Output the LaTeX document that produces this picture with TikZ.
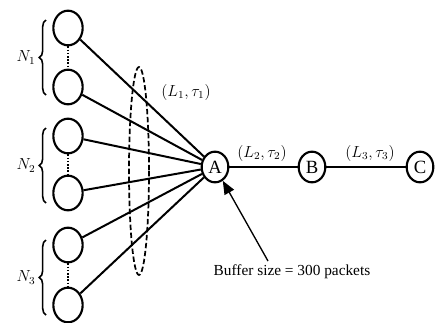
\documentclass[tikz,border=0pt]{standalone}
\usepackage{fontspec}
\setmainfont{Liberation Serif}
\usetikzlibrary{shapes.geometric,decorations.pathreplacing,arrows.meta}
\begin{document}
\begin{tikzpicture}[x=0.75pt,y=-0.75pt,
  src/.style={draw,line width=1.6pt,ellipse,minimum width=22pt,minimum height=26pt,inner sep=0pt},
  hub/.style={draw,line width=1.6pt,ellipse,minimum width=20pt,minimum height=23pt,inner sep=0pt,font=\fontsize{14}{14}\selectfont},
  link/.style={line width=1.5pt},
  dotline/.style={line width=1.2pt,dash pattern=on 1.2pt off 1.2pt},
  bracestyle/.style={line width=1.2pt,decorate,decoration={brace,amplitude=5pt}},
  lbl/.style={font=\fontsize{12}{14}\selectfont}]
\useasboundingbox (0,0) rectangle (435,322);
% sources
\node[src] (s1) at (68,28) {};
\node[src] (s2) at (68,87) {};
\node[src] (s3) at (68,136) {};
\node[src] (s4) at (68,193) {};
\node[src] (s5) at (68,245) {};
\node[src] (s6) at (68,305) {};
\draw[dotline] (s1) -- (s2);
\draw[dotline] (s3) -- (s4);
\draw[dotline] (s5) -- (s6);
% hubs
\node[hub] (A) at (215,167) {A};
\node[hub] (B) at (312,167) {B};
\node[hub] (C) at (420,167) {C};
% links
\foreach \s in {s1,s2,s3,s4,s5,s6} \draw[link] (\s) -- (A);
\draw[link] (A) -- (B);
\draw[link] (B) -- (C);
% dashed ellipse
\draw[line width=1.3pt,dash pattern=on 4pt off 2pt] (139,171) ellipse [x radius=10, y radius=104];
% braces
\coordinate (b1t) at (46,20); \coordinate (b1b) at (46,95);
\coordinate (b2t) at (46,128); \coordinate (b2b) at (46,203);
\coordinate (b3t) at (46,240); \coordinate (b3b) at (46,315);
\draw[bracestyle] (b1b) -- node[left=4pt,lbl] (n1) {$N_1$} (b1t);
\draw[bracestyle] (b2b) -- node[left=4pt,lbl] (n2) {$N_2$} (b2t);
\draw[bracestyle] (b3b) -- node[left=4pt,lbl] (n3) {$N_3$} (b3t);
% link labels
\node[lbl] (l1) at (186,92) {$(L_1,\tau_1)$};
\node[lbl] (l2) at (262,153) {$(L_2,\tau_2)$};
\node[lbl] (l3) at (370,153) {$(L_3,\tau_3)$};
% buffer
\node[font=\fontsize{11.5}{13}\selectfont] (buf) at (292,272) {Buffer size = 300 packets};
\coordinate (bt) at (268,261);
\draw[line width=1pt,-{Triangle[length=10pt,width=8pt]}] (bt) -- (A);
\end{tikzpicture}
\end{document}
